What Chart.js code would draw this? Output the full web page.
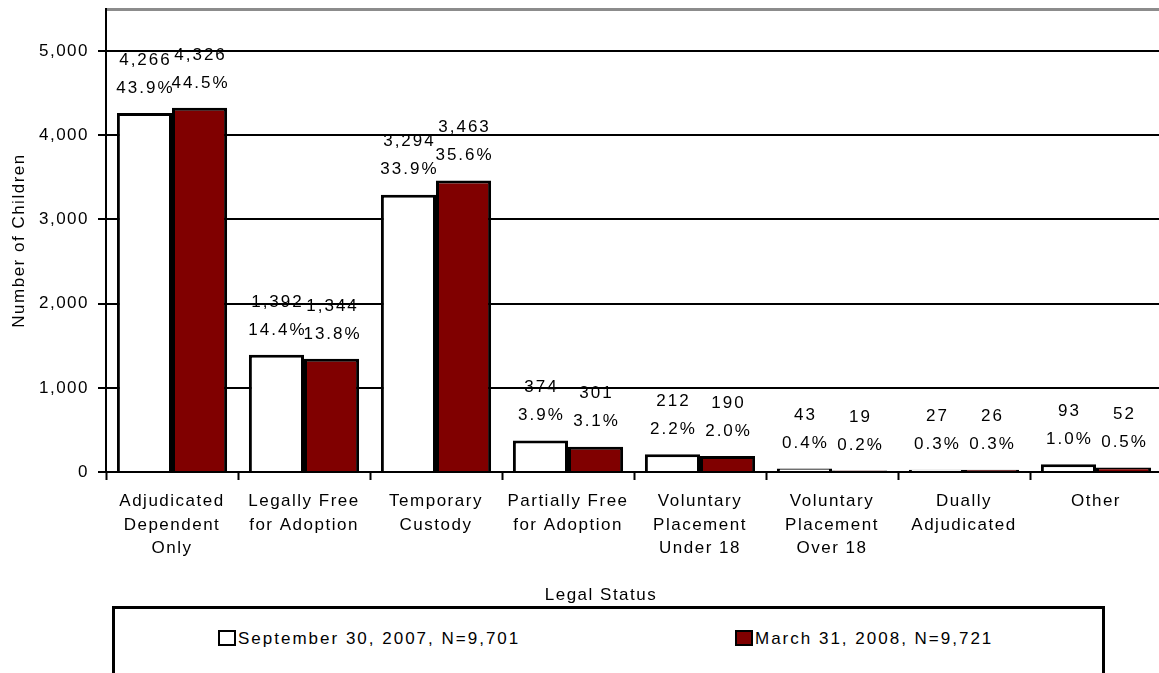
<!DOCTYPE html>
<html lang="en">
<head>
<meta charset="UTF-8">
<title>Legal Status</title>
<script src="https://cdn.jsdelivr.net/npm/chart.js"></script>
<style>
  html, body { margin: 0; padding: 0; background: #fff; overflow: hidden; }
  body { width: 1159px; height: 673px; position: relative; font-family: "Liberation Sans", Arial, sans-serif; }
  #wrap { position: absolute; left: 0; top: 0; width: 1162px; height: 673px; }
  .axis-title { position: absolute; left: 501px; top: 585px; width: 200px; text-align: center; font-size: 17px; letter-spacing: 1.5px; color: #000; }
  #legend { position: absolute; left: 112px; top: 606px; width: 987px; height: 80px; border: 3px solid #000; background: #fff; }
  .item { position: absolute; top: 20px; font-size: 17px; letter-spacing: 2px; color: #000; line-height: 20px; white-space: nowrap; }
  .swatch { display: inline-block; width: 14px; height: 12px; border: 2px solid #000; vertical-align: -2px; margin-right: 2px; }
</style>
</head>
<body>
<div id="wrap"><canvas id="chart"></canvas></div>
<div class="axis-title">Legal Status</div>
<div id="legend"></div>
<script>
// chart data
const categories = [
  ['Adjudicated', 'Dependent', 'Only'],
  ['Legally Free', 'for Adoption'],
  ['Temporary', 'Custody'],
  ['Partially Free', 'for Adoption'],
  ['Voluntary', 'Placement', 'Under 18'],
  ['Voluntary', 'Placement', 'Over 18'],
  ['Dually', 'Adjudicated'],
  ['Other']
];
const seriesNames = ['September 30, 2007, N=9,701', 'March 31, 2008, N=9,721'];
const sep2007 = [4266, 1392, 3294, 374, 212, 43, 27, 93];
const mar2008 = [4326, 1344, 3463, 301, 190, 19, 26, 52];
const sep2007Pct = [43.9, 14.4, 33.9, 3.9, 2.2, 0.4, 0.3, 1.0];
const mar2008Pct = [44.5, 13.8, 35.6, 3.1, 2.0, 0.2, 0.3, 0.5];
const yTicks = [0, 1000, 2000, 3000, 4000, 5000];
const yMax = 5500;

const FONT = '"Liberation Sans", Arial, sans-serif';
Chart.defaults.font.family = FONT;
Chart.defaults.color = '#000';

// wider text spacing like the original
const spacing = {
  id: 'spacing',
  beforeDraw(chart) { chart.ctx.letterSpacing = '1.5px'; }
};

// value + percent above each bar
const barLabels = {
  id: 'barLabels',
  afterDatasetsDraw(chart) {
    const ctx = chart.ctx;
    ctx.save();
    ctx.font = '17px ' + FONT;
    ctx.letterSpacing = '2px';
    ctx.fillStyle = '#000';
    ctx.textAlign = 'center';
    ctx.textBaseline = 'middle';
    chart.data.datasets.forEach((ds, i) => {
      chart.getDatasetMeta(i).data.forEach((bar, j) => {
        ctx.fillText(ds.data[j].toLocaleString('en-US'), bar.x + 1, bar.y - 53);
        ctx.fillText(ds.pct[j].toFixed(1) + '%', bar.x + 1, bar.y - 25);
      });
    });
    ctx.restore();
  }
};

const colors = ['#ffffff', '#800000'];
const isTop = c => c.tick && c.tick.value === yMax;

new Chart(document.getElementById('chart'), {
  type: 'bar',
  data: {
    labels: categories,
    datasets: [
      { label: seriesNames[0], data: sep2007, pct: sep2007Pct, backgroundColor: colors[0], borderColor: '#000', borderWidth: 3, borderSkipped: 'start' },
      { label: seriesNames[1], data: mar2008, pct: mar2008Pct, backgroundColor: colors[1], borderColor: '#000', borderWidth: 3, borderSkipped: 'start' }
    ]
  },
  options: {
    responsive: true,
    maintainAspectRatio: false,
    animation: false,
    layout: { padding: { top: 9, right: 0, bottom: 0, left: 0 } },
    datasets: { bar: { categoryPercentage: 0.835, barPercentage: 1.0 } },
    plugins: { legend: { display: false }, tooltip: { enabled: false } },
    scales: {
      x: {
        grid: { drawOnChartArea: false, drawTicks: true, tickLength: 8, tickWidth: 2, tickColor: '#000', offset: true },
        border: { color: '#000', width: 2 },
        ticks: { font: { size: 17, lineHeight: 1.38 }, padding: 10, maxRotation: 0, autoSkip: false },
        afterFit(scale) { scale.height = 201; }
      },
      y: {
        min: 0,
        max: yMax,
        afterBuildTicks(scale) { scale.ticks = yTicks.concat([yMax]).map(v => ({ value: v })); },
        ticks: {
          font: { size: 17 },
          padding: 9,
          autoSkip: false,
          callback: v => (v === yMax ? '' : v.toLocaleString('en-US'))
        },
        grid: {
          color: c => (isTop(c) ? '#8c8c8c' : '#000'),
          lineWidth: c => (isTop(c) ? 3 : 2),
          tickColor: c => (isTop(c) ? 'rgba(0,0,0,0)' : '#000'),
          tickLength: 8,
          tickWidth: 2
        },
        border: { color: '#000', width: 2 },
        title: { display: true, text: 'Number of Children', font: { size: 17 }, padding: { top: 9, bottom: 0 } },
        afterFit(scale) { scale.width = 106; scale.paddingTop = 0; scale.paddingBottom = 0; }
      }
    }
  },
  plugins: [spacing, barLabels]
});

// legend box
const legend = document.getElementById('legend');
const legendX = [103, 620];
seriesNames.forEach((name, i) => {
  const item = document.createElement('div');
  item.className = 'item';
  item.style.left = legendX[i] + 'px';
  const sw = document.createElement('span');
  sw.className = 'swatch';
  sw.style.background = colors[i];
  item.appendChild(sw);
  item.appendChild(document.createTextNode(name));
  legend.appendChild(item);
});
</script>
</body>
</html>
